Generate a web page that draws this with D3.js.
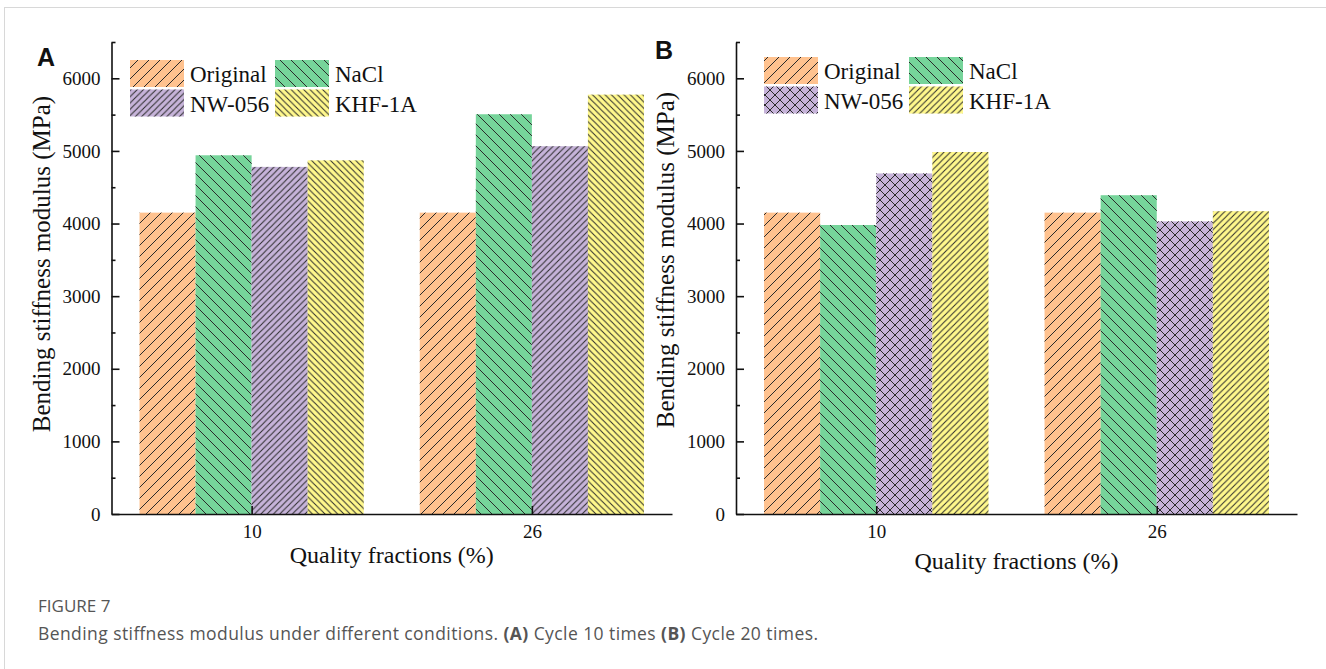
<!DOCTYPE html>
<meta charset="utf-8">
<script src="https://d3js.org/d3.v7.min.js"></script>
<style>
  body { margin: 0; background: #fff; }
  svg text { font-family: "Liberation Serif", "Times New Roman", serif; fill: #111; }
</style>
<div id="chart"></div>
<script>
// values
const categories = ["10", "26"];
const seriesNames = ["Original", "NaCl", "NW-056", "KHF-1A"];
const seriesColors = ["#ffc28f", "#76d49a", "#c6b3d9", "#fff88c"];

// panel A : cycle 10 times
const originalA = [4150, 4150];
const naclA = [4940, 5505];
const nw056A = [4780, 5065];
const khfA = [4870, 5775];

// panel B : cycle 20 times
const originalB = [4150, 4150];
const naclB = [3980, 4390];
const nw056B = [4690, 4030];
const khfB = [4985, 4170];

const yMajor = [0, 1000, 2000, 3000, 4000, 5000, 6000];
const yMinor = [500, 1500, 2500, 3500, 4500, 5500, 6500];

const W = 1326, H = 669;
const svg = d3.select("#chart").append("svg")
  .attr("width", W).attr("height", H);

// light frame round the figure
svg.append("rect")
  .attr("x", 4.5).attr("y", 7.5)
  .attr("width", W + 20).attr("height", H + 20)
  .attr("fill", "none").attr("stroke", "#d8d8d8");

// hatch patterns (lines only, drawn over the colour fill)
const defs = svg.append("defs");
function hatch(id, s, kind) {
  const p = defs.append("pattern")
    .attr("id", id).attr("patternUnits", "userSpaceOnUse")
    .attr("width", s).attr("height", s);
  const fwd = `M${-s/4},${s/4} l${s/2},${-s/2} M0,${s} l${s},${-s} M${3*s/4},${5*s/4} l${s/2},${-s/2}`;
  const back = `M${-s/4},${3*s/4} l${s/2},${s/2} M0,0 l${s},${s} M${3*s/4},${-s/4} l${s/2},${s/2}`;
  let d = kind === "fwd" ? fwd : kind === "back" ? back : fwd + " " + back;
  p.append("path").attr("d", d)
    .attr("stroke", "#2a2a2a").attr("stroke-width", 1).attr("fill", "none");
}
hatch("fwd", 11, "fwd");
hatch("back", 11, "back");
hatch("fwdDense", 6.3, "fwd");
hatch("backDense", 6.3, "back");
hatch("cross", 10, "cross");

const panels = [
  { letter: "A", x0: 111.5, x1: 672, letterX: 37, letterY: 66,
    values: [originalA, naclA, nw056A, khfA],
    hatches: ["fwd", "back", "fwdDense", "backDense"],
    legendX: 130, legendY: 60, titleY: 563, titleCenter: 264 },
  { letter: "B", x0: 736, x1: 1297, letterX: 655, letterY: 59,
    values: [originalB, naclB, nw056B, khfB],
    hatches: ["fwd", "back", "cross", "fwdDense"],
    legendX: 764, legendY: 57, titleY: 569, titleCenter: 260 }
];

const yTop = 42, yBottom = 514;
const y = d3.scaleLinear().domain([0, 6500]).range([yBottom, yTop]);
const serif = "'Liberation Serif', 'Times New Roman', serif";

panels.forEach(function(pn) {
  const g = svg.append("g");
  const x = d3.scaleLinear().domain([0.5, 2.5]).range([pn.x0, pn.x1]);
  const bw = x(0.2) - x(0);

  // bars
  pn.values.forEach(function(vals, j) {
    vals.forEach(function(v, i) {
      const bx = x(i + 1 + (j - 2) * 0.2);
      g.append("rect")
        .attr("x", bx).attr("y", y(v))
        .attr("width", bw).attr("height", y(0) - y(v))
        .attr("fill", seriesColors[j]);
      g.append("rect")
        .attr("x", bx).attr("y", y(v))
        .attr("width", bw).attr("height", y(0) - y(v))
        .attr("fill", "url(#" + pn.hatches[j] + ")");
    });
  });

  // y axis, ticks pointing inward
  g.append("g")
    .attr("transform", "translate(" + pn.x0 + ",0)")
    .call(d3.axisLeft(y).tickValues(yMajor).tickFormat(d3.format("d"))
      .tickSize(-8).tickSizeOuter(0).tickPadding(11));
  g.append("g")
    .attr("transform", "translate(" + pn.x0 + ",0)")
    .call(d3.axisLeft(y).tickValues(yMinor).tickSize(-4).tickSizeOuter(0).tickFormat(""))
    .select(".domain").remove();

  // x axis
  g.append("g")
    .attr("transform", "translate(0," + yBottom + ")")
    .call(d3.axisBottom(x).tickValues([1, 2]).tickFormat((d, i) => categories[i])
      .tickSize(-8).tickSizeOuter(0).tickPadding(11));

  g.selectAll(".domain, .tick line").attr("stroke", "#111").attr("stroke-width", 1.6);
  g.selectAll(".tick text")
    .style("font-family", serif).style("font-size", "19px").style("fill", "#111");

  // axis titles
  g.append("text")
    .attr("x", (pn.x0 + pn.x1) / 2).attr("y", pn.titleY)
    .attr("text-anchor", "middle").style("font-size", "24px")
    .text("Quality fractions (%)");
  g.append("text")
    .attr("transform", "translate(" + (pn.x0 - 62) + "," + pn.titleCenter + ") rotate(-90)")
    .attr("text-anchor", "middle").style("font-size", "25px")
    .text("Bending stiffness modulus (MPa)");

  // panel letter
  g.append("text")
    .attr("x", pn.letterX).attr("y", pn.letterY)
    .style("font-family", "'Liberation Sans', Arial, sans-serif")
    .style("font-weight", "bold").style("font-size", "25px")
    .text(pn.letter);

  // legend, two columns
  seriesNames.forEach(function(name, j) {
    const col = j % 2, row = Math.floor(j / 2);
    const lx = pn.legendX + col * 145, ly = pn.legendY + row * 29.5;
    g.append("rect").attr("x", lx).attr("y", ly).attr("width", 54).attr("height", 27)
      .attr("fill", seriesColors[j]);
    g.append("rect").attr("x", lx).attr("y", ly).attr("width", 54).attr("height", 27)
      .attr("fill", "url(#" + pn.hatches[j] + ")");
    g.append("text").attr("x", lx + 60).attr("y", ly + 22)
      .style("font-size", "23px").text(name);
  });
});

// caption
svg.append("text").attr("x", 38).attr("y", 612)
  .style("font-family", "'Open Sans', sans-serif").style("font-size", "17px").style("fill", "#555")
  .text("FIGURE 7");
const line = svg.append("text").attr("x", 38).attr("y", 640)
  .attr("textLength", 780).attr("lengthAdjust", "spacing")
  .style("font-family", "'Open Sans', sans-serif").style("font-size", "17.5px").style("fill", "#555");
line.append("tspan").text("Bending stiffness modulus under different conditions. ");
line.append("tspan").style("font-weight", "bold").text("(A)");
line.append("tspan").text(" Cycle 10 times ");
line.append("tspan").style("font-weight", "bold").text("(B)");
line.append("tspan").text(" Cycle 20 times.");
</script>
